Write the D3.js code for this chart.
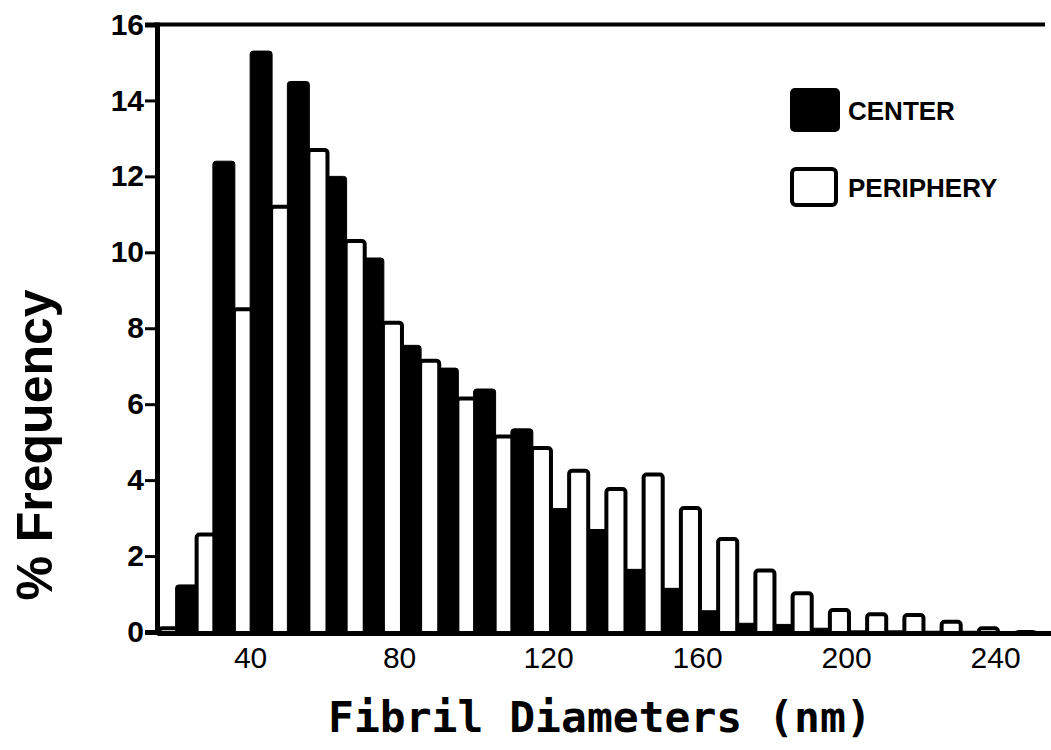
<!DOCTYPE html>
<html>
<head>
<meta charset="utf-8">
<script src="https://cdn.jsdelivr.net/npm/d3@7/dist/d3.min.js"></script>
<style>
  html, body { margin: 0; padding: 0; background: #fff; }
  svg { display: block; }
</style>
</head>
<body>
<svg id="chart" width="1051" height="750"></svg>
<script>
// Diameter bins (nm, left edge of each 10 nm bin)
const binStarts = [10, 20, 30, 40, 50, 60, 70, 80, 90, 100, 110, 120, 130, 140, 150, 160, 170, 180, 190, 200, 210, 220, 230, 240];
// % frequency, center of tendon
const centerValues = [0.05, 1.24, 12.4, 15.3, 14.5, 12.0, 9.85, 7.55, 6.95, 6.4, 5.35, 3.25, 2.7, 1.65, 1.15, 0.56, 0.23, 0.2, 0.1, 0.03, 0.03, 0.02, 0.02, 0];
// % frequency, periphery
const peripheryValues = [0.15, 2.62, 8.55, 11.25, 12.75, 10.35, 8.2, 7.2, 6.2, 5.2, 4.9, 4.3, 3.82, 4.2, 3.32, 2.5, 1.67, 1.07, 0.63, 0.52, 0.5, 0.32, 0.15, 0.05];
const yTicks = [0, 2, 4, 6, 8, 10, 12, 14, 16];
const xTicks = [40, 80, 120, 160, 200, 240];
const legendItems = ["CENTER", "PERIPHERY"];

const svg = d3.select("#chart");
const x = d3.scaleLinear().domain([15, 255]).range([157, 1051]);
const y = d3.scaleLinear().domain([0, 16]).range([632, 24.5]);

// clip for the plot area
svg.append("defs").append("clipPath").attr("id", "plot")
  .append("rect").attr("x", x(15)).attr("y", 0).attr("width", 1051 - x(15)).attr("height", y(0));

// build bar list
const bars = [];
binStarts.forEach((d, i) => {
  bars.push({type: "c", d: d, v: centerValues[i]});
  bars.push({type: "p", d: d, v: peripheryValues[i]});
});
bars.sort((a, b) => a.v - b.v);

const sw = 4;
const g = svg.append("g").attr("clip-path", "url(#plot)");
g.selectAll("rect.bar").data(bars).enter().append("rect")
  .attr("class", "bar")
  .attr("x", b => b.type === "c" ? x(b.d) : x(b.d + 5.1) + sw / 2)
  .attr("width", b => b.type === "c" ? x(b.d + 5.9) - x(b.d) : x(b.d + 11.3) - x(b.d + 5.1) - sw)
  .attr("y", b => b.type === "c" ? y(b.v) : y(b.v) + sw / 2)
  .attr("height", b => b.type === "c" ? y(0) - y(b.v) + 2 : Math.max(0, y(0) - y(b.v)))
  .attr("rx", 3)
  .attr("fill", b => b.type === "c" ? "#000" : "#fff")
  .attr("stroke", "#000")
  .attr("stroke-width", b => b.type === "c" ? 1 : sw);

// y axis
const yAxis = d3.axisLeft(y).tickValues(yTicks).tickSize(12).tickPadding(1).tickFormat(d3.format("d"));
const ya = svg.append("g").attr("transform", `translate(${x(15)},0)`).call(yAxis);
ya.select(".domain").attr("stroke", "#000").attr("stroke-width", 5);
ya.selectAll(".tick line").attr("stroke", "#000").attr("stroke-width", 3);
ya.selectAll(".tick text")
  .attr("font-family", "'Liberation Sans', Arial, sans-serif")
  .attr("font-weight", "bold").attr("font-size", 30).attr("fill", "#000");

// top frame line
svg.append("line").attr("x1", x(15) - 3).attr("x2", 1045)
  .attr("y1", y(16)).attr("y2", y(16)).attr("stroke", "#000").attr("stroke-width", 4);

// x axis
const xAxis = d3.axisBottom(x).tickValues(xTicks).tickSize(0).tickPadding(14).tickFormat(d3.format("d"));
const xa = svg.append("g").attr("transform", `translate(0,${y(0) + 1})`).call(xAxis);
xa.select(".domain").attr("stroke", "#000").attr("stroke-width", 5);
xa.selectAll(".tick text")
  .attr("font-family", "'Liberation Sans', Arial, sans-serif")
  .attr("font-size", 30).attr("fill", "#000");

// axis titles
svg.append("text").attr("x", 328).attr("y", 732)
  .attr("font-family", "'DejaVu Sans Mono', monospace").attr("font-weight", "bold")
  .attr("font-size", 43).attr("fill", "#000")
  .text("Fibril Diameters (nm)");

svg.append("text").attr("transform", "translate(52,445) rotate(-90)")
  .attr("text-anchor", "middle")
  .attr("font-family", "'Liberation Sans', Arial, sans-serif").attr("font-weight", "bold")
  .attr("font-size", 50).attr("fill", "#000")
  .text("% Frequency");

// legend
const lg = svg.append("g");
lg.append("rect").attr("x", 790).attr("y", 88).attr("width", 50).attr("height", 44).attr("rx", 5).attr("fill", "#000");
lg.append("rect").attr("x", 792).attr("y", 169).attr("width", 44).attr("height", 36).attr("rx", 4)
  .attr("fill", "#fff").attr("stroke", "#000").attr("stroke-width", 4);
lg.selectAll("text.leg").data(legendItems).enter().append("text")
  .attr("class", "leg")
  .attr("x", 848).attr("y", (d, i) => i === 0 ? 120 : 197)
  .attr("font-family", "'Liberation Sans', Arial, sans-serif").attr("font-weight", "bold")
  .attr("font-size", 26).attr("fill", "#000")
  .text(d => d);
</script>
</body>
</html>
